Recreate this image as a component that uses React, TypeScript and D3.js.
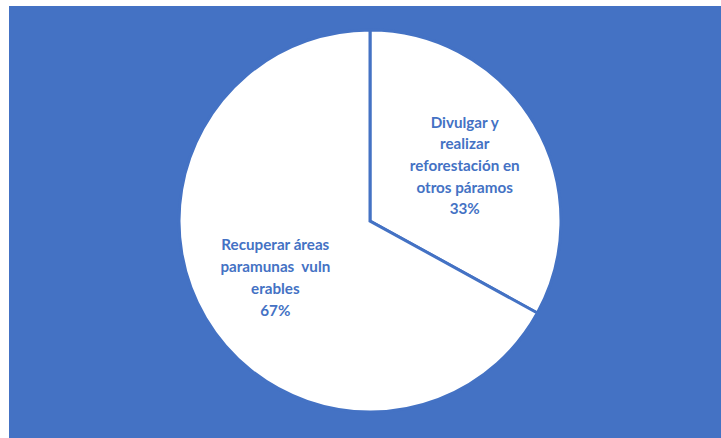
import React from "react";
import * as d3 from "d3";

const categories = ["Divulgar y realizar reforestación en otros páramos", "Recuperar áreas paramunas vulnerables"];
const values = [33, 67];
const labelLines = [
  ["Divulgar y", "realizar", "reforestación en", "otros páramos", "33%"],
  ["Recuperar áreas", "paramunas  vuln", "erables", "67%"],
];

const W = 721;
const H = 438;
const BLUE = "#4472C4";

export default function App() {
  const cx = 370;
  const cy = 221;
  const R = 191;
  const pie = d3.pie<number>().value((d) => d).sort(null);
  const arcs = pie(values);
  const arc = d3.arc<d3.PieArcDatum<number>>().innerRadius(0).outerRadius(R);
  const labelArc = d3.arc<d3.PieArcDatum<number>>().innerRadius(110).outerRadius(110);
  const lh = 21.7;
  return (
    <div style={{ position: "fixed", left: 0, top: 0 }}>
      <svg width={W} height={H} style={{ display: "block", background: "#fff" }}>
        <rect x={9} y={6} width={W - 9} height={H - 6} fill={BLUE} />
        <g transform={`translate(${cx},${cy})`}>
          {arcs.map((a, i) => (
            <path key={categories[i]} d={arc(a) || ""} fill="#fff" stroke={BLUE} strokeWidth={3} strokeLinejoin="miter" />
          ))}
          {arcs.map((a, i) => {
            const [lx, ly] = labelArc.centroid(a);
            const lines = labelLines[i];
            const y0 = ly - ((lines.length - 1) / 2) * lh + 6;
            return (
              <text
                key={"t" + i}
                textAnchor="middle"
                fill={BLUE}
                fontFamily="Lato, 'Open Sans', sans-serif"
                fontWeight="bold"
                fontSize={15.2}
                style={{ whiteSpace: "pre" }}
              >
                {lines.map((ln, j) => (
                  <tspan key={j} x={lx} y={y0 + j * lh}>
                    {ln}
                  </tspan>
                ))}
              </text>
            );
          })}
        </g>
      </svg>
    </div>
  );
}
